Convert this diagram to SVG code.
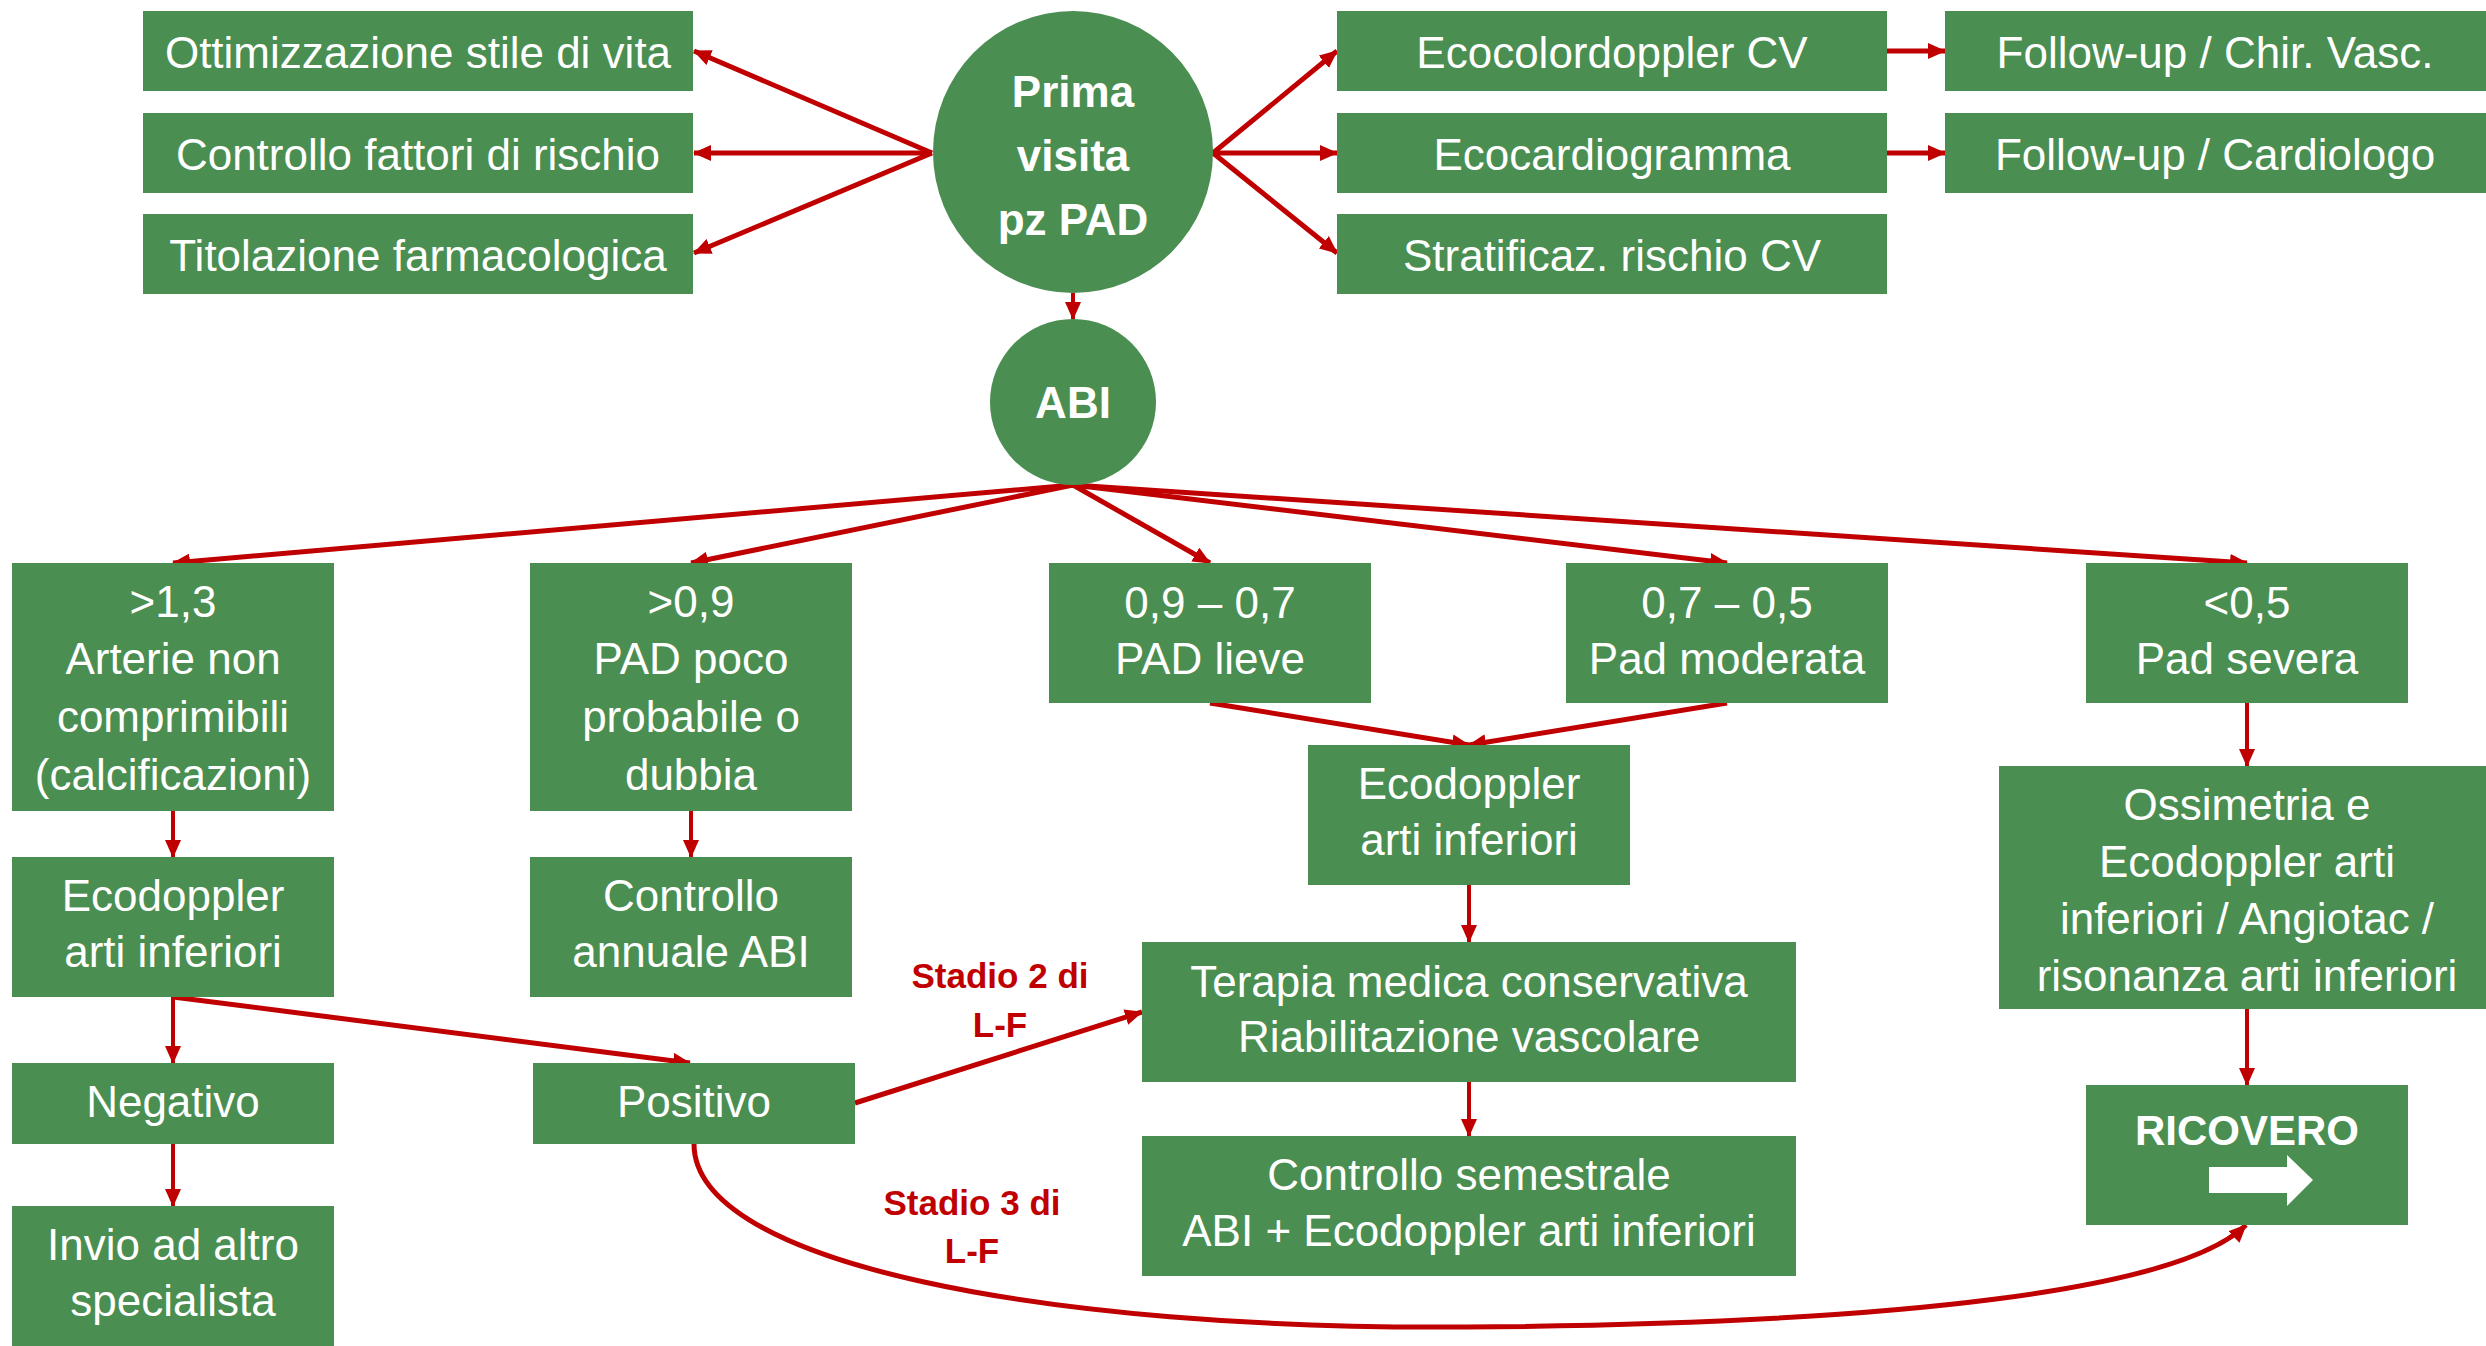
<svg xmlns="http://www.w3.org/2000/svg" width="2486" height="1346" viewBox="0 0 2486 1346">
<style>
.box{fill:#4A8E51}
.t{font-family:"Liberation Sans",Arial,sans-serif;font-size:44px;fill:#fff;text-anchor:middle}
.b{font-weight:bold;font-size:44px}
.lbl{font-family:"Liberation Sans",Arial,sans-serif;font-size:35px;font-weight:bold;fill:#C00000;text-anchor:middle}
.c{stroke:#C00000;stroke-width:5;fill:none;marker-end:url(#ah)}
.ct{stroke:#C00000;stroke-width:4;fill:none;marker-end:url(#ah)}
</style>
<defs>
<marker id="ah" markerUnits="userSpaceOnUse" markerWidth="18" markerHeight="16" refX="17" refY="8" orient="auto">
<path d="M0,0 L18,8 L0,16 z" fill="#C00000"/>
</marker>
</defs>
<rect width="2486" height="1346" fill="#fff"/>

<g id="connectors">
<line class="c" x1="932" y1="153" x2="694" y2="51"/>
<line class="c" x1="932" y1="153" x2="694" y2="153"/>
<line class="c" x1="932" y1="153" x2="694" y2="253"/>
<line class="c" x1="1213" y1="153" x2="1337" y2="51"/>
<line class="c" x1="1213" y1="153" x2="1337" y2="153"/>
<line class="c" x1="1213" y1="153" x2="1337" y2="253"/>
<line class="c" x1="1887" y1="51" x2="1945" y2="51"/>
<line class="c" x1="1887" y1="153" x2="1945" y2="153"/>
<line class="ct" x1="1073" y1="293" x2="1073" y2="319"/>
<line class="c" x1="1073" y1="485" x2="173" y2="563"/>
<line class="c" x1="1073" y1="485" x2="691" y2="563"/>
<line class="c" x1="1073" y1="485" x2="1210" y2="563"/>
<line class="c" x1="1073" y1="485" x2="1727" y2="563"/>
<line class="c" x1="1073" y1="485" x2="2247" y2="563"/>
<line class="ct" x1="173" y1="811" x2="173" y2="857"/>
<line class="ct" x1="691" y1="811" x2="691" y2="857"/>
<line class="c" x1="1210" y1="703" x2="1469" y2="745"/>
<line class="c" x1="1727" y1="703" x2="1469" y2="745"/>
<line class="ct" x1="2247" y1="703" x2="2247" y2="766"/>
<line class="ct" x1="1469" y1="885" x2="1469" y2="942"/>
<line class="ct" x1="1469" y1="1082" x2="1469" y2="1136"/>
<line class="ct" x1="2247" y1="1009" x2="2247" y2="1085"/>
<line class="ct" x1="173" y1="997" x2="173" y2="1063"/>
<line class="c" x1="173" y1="997" x2="690" y2="1063"/>
<line class="ct" x1="173" y1="1144" x2="173" y2="1206"/>
<line class="c" x1="855" y1="1103" x2="1142" y2="1012"/>
<path class="c" d="M694,1144 C694,1265 1050,1330 1466,1327 C1900,1324 2180,1290 2246,1225"/>
</g>

<g id="n-ottimizzazione"><rect class="box" x="143" y="11" width="550" height="80"/><text class="t" x="418" y="68">Ottimizzazione stile di vita</text></g>
<g id="n-controllo-fattori"><rect class="box" x="143" y="113" width="550" height="80"/><text class="t" x="418" y="170">Controllo fattori di rischio</text></g>
<g id="n-titolazione"><rect class="box" x="143" y="214" width="550" height="80"/><text class="t" x="418" y="271">Titolazione farmacologica</text></g>

<g id="n-prima"><ellipse class="box" cx="1073" cy="152" rx="140" ry="141"/>
<text class="t b" x="1073" y="107">Prima</text><text class="t b" x="1073" y="171">visita</text><text class="t b" x="1073" y="235">pz PAD</text></g>

<g id="n-ecocolor"><rect class="box" x="1337" y="11" width="550" height="80"/><text class="t" x="1612" y="68">Ecocolordoppler CV</text></g>
<g id="n-ecocardio"><rect class="box" x="1337" y="113" width="550" height="80"/><text class="t" x="1612" y="170">Ecocardiogramma</text></g>
<g id="n-stratificaz"><rect class="box" x="1337" y="214" width="550" height="80"/><text class="t" x="1612" y="271">Stratificaz. rischio CV</text></g>
<g id="n-fu-chir"><rect class="box" x="1945" y="11" width="545" height="80"/><text class="t" x="2215" y="68">Follow-up / Chir. Vasc.</text></g>
<g id="n-fu-cardio"><rect class="box" x="1945" y="113" width="545" height="80"/><text class="t" x="2215" y="170">Follow-up / Cardiologo</text></g>

<g id="n-abi"><circle class="box" cx="1073" cy="402" r="83"/><text class="t b" x="1073" y="418">ABI</text></g>

<g id="n-gt13"><rect class="box" x="12" y="563" width="322" height="248"/>
<text class="t" x="173" y="617">&gt;1,3</text><text class="t" x="173" y="674">Arterie non</text><text class="t" x="173" y="732">comprimibili</text><text class="t" x="173" y="790">(calcificazioni)</text></g>
<g id="n-gt09"><rect class="box" x="530" y="563" width="322" height="248"/>
<text class="t" x="691" y="617">&gt;0,9</text><text class="t" x="691" y="674">PAD poco</text><text class="t" x="691" y="732">probabile o</text><text class="t" x="691" y="790">dubbia</text></g>
<g id="n-lieve"><rect class="box" x="1049" y="563" width="322" height="140"/>
<text class="t" x="1210" y="618">0,9 – 0,7</text><text class="t" x="1210" y="674">PAD lieve</text></g>
<g id="n-moderata"><rect class="box" x="1566" y="563" width="322" height="140"/>
<text class="t" x="1727" y="618">0,7 – 0,5</text><text class="t" x="1727" y="674">Pad moderata</text></g>
<g id="n-severa"><rect class="box" x="2086" y="563" width="322" height="140"/>
<text class="t" x="2247" y="618">&lt;0,5</text><text class="t" x="2247" y="674">Pad severa</text></g>

<g id="n-ecodoppler-left"><rect class="box" x="12" y="857" width="322" height="140"/>
<text class="t" x="173" y="911">Ecodoppler</text><text class="t" x="173" y="967">arti inferiori</text></g>
<g id="n-controllo-annuale"><rect class="box" x="530" y="857" width="322" height="140"/>
<text class="t" x="691" y="911">Controllo</text><text class="t" x="691" y="967">annuale ABI</text></g>
<g id="n-ecodoppler-mid"><rect class="box" x="1308" y="745" width="322" height="140"/>
<text class="t" x="1469" y="799">Ecodoppler</text><text class="t" x="1469" y="855">arti inferiori</text></g>
<g id="n-ossimetria"><rect class="box" x="1999" y="766" width="496" height="243"/>
<text class="t" x="2247" y="820">Ossimetria e</text><text class="t" x="2247" y="877">Ecodoppler arti</text><text class="t" x="2247" y="934">inferiori / Angiotac /</text><text class="t" x="2247" y="991">risonanza arti inferiori</text></g>

<g id="n-negativo"><rect class="box" x="12" y="1063" width="322" height="81"/><text class="t" x="173" y="1117">Negativo</text></g>
<g id="n-positivo"><rect class="box" x="533" y="1063" width="322" height="81"/><text class="t" x="694" y="1117">Positivo</text></g>
<g id="n-invio"><rect class="box" x="12" y="1206" width="322" height="145"/>
<text class="t" x="173" y="1260">Invio ad altro</text><text class="t" x="173" y="1316">specialista</text></g>

<g id="n-terapia"><rect class="box" x="1142" y="942" width="654" height="140"/>
<text class="t" x="1469" y="997">Terapia medica conservativa</text><text class="t" x="1469" y="1052">Riabilitazione vascolare</text></g>
<g id="n-semestrale"><rect class="box" x="1142" y="1136" width="654" height="140"/>
<text class="t" x="1469" y="1190">Controllo semestrale</text><text class="t" x="1469" y="1246">ABI + Ecodoppler arti inferiori</text></g>

<g id="n-ricovero"><rect class="box" x="2086" y="1085" width="322" height="140"/>
<text class="t" style="font-weight:bold;font-size:42px" x="2247" y="1145">RICOVERO</text>
<polygon fill="#fff" points="2209,1167 2287,1167 2287,1155 2313,1180 2287,1206 2287,1193 2209,1193"/></g>

<g id="labels">
<text class="lbl" x="1000" y="988">Stadio 2 di</text><text class="lbl" x="1000" y="1037">L-F</text>
<text class="lbl" x="972" y="1215">Stadio 3 di</text><text class="lbl" x="972" y="1263">L-F</text>
</g>
</svg>
